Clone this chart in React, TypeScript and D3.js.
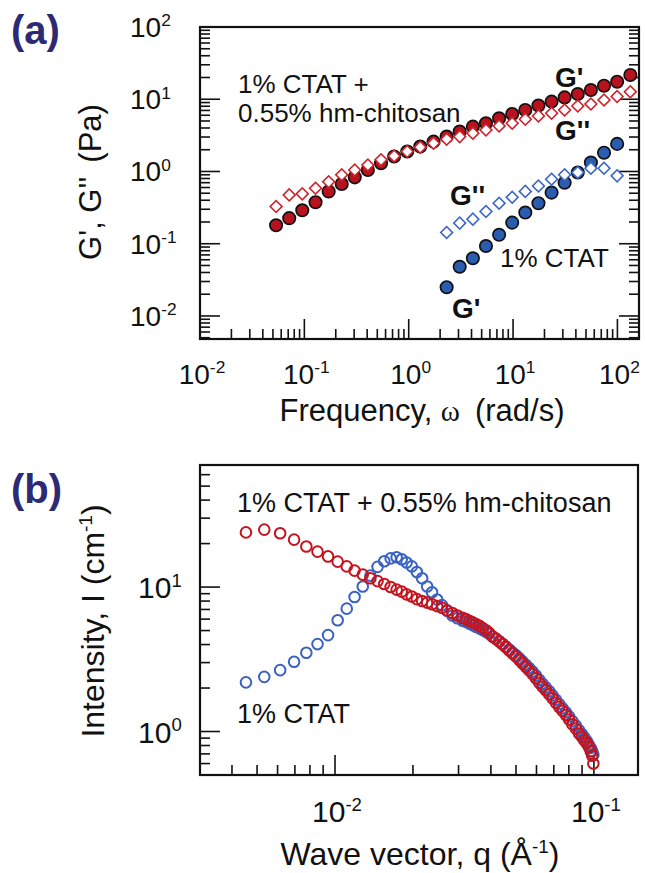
import React from 'react';
import * as d3 from 'd3';

// ---------- Panel (a): frequency sweep ----------
const omegaMix = [0.0536, 0.0716, 0.0955, 0.128, 0.171, 0.228, 0.304, 0.406, 0.543, 0.725, 0.968, 1.29, 1.73, 2.31, 3.08, 4.12, 5.5, 7.35, 9.81, 13.1, 17.5, 23.4, 31.2, 41.7, 55.7, 74.4, 99.4, 133];
const gPrimeMix = [0.18, 0.226, 0.29, 0.376, 0.53, 0.67, 0.83, 1.05, 1.3, 1.61, 1.89, 2.21, 2.59, 3.04, 3.57, 4.18, 4.65, 5.46, 6.26, 7.11, 8.17, 9.27, 10.6, 11.8, 13.4, 15.4, 17.5, 21.7];
const gDoublePrimeMix = [0.327, 0.474, 0.49, 0.587, 0.72, 0.9, 1.05, 1.23, 1.45, 1.64, 1.89, 2.17, 2.46, 2.8, 3.04, 3.38, 3.76, 4.27, 4.66, 5.3, 5.88, 6.4, 7.11, 8.07, 8.61, 9.77, 10.9, 12.7];

const omegaCtat = [2.31, 3.08, 4.12, 5.5, 7.35, 9.81, 13.1, 17.5, 23.4, 31.2, 41.7, 55.7, 74.4, 99.4];
const gPrimeCtat = [0.025, 0.048, 0.063, 0.093, 0.133, 0.196, 0.27, 0.364, 0.51, 0.7, 0.97, 1.33, 1.82, 2.41];
const gDoublePrimeCtat = [0.143, 0.193, 0.219, 0.279, 0.364, 0.44, 0.53, 0.63, 0.78, 0.9, 0.97, 1.11, 1.11, 0.87];

const aXTickExps = ['-2', '-1', '0', '1', '2'];
const aYTickExps = ['-2', '-1', '0', '1', '2'];

// ---------- Panel (b): SAXS ----------
const qVals = [0.00453, 0.00533, 0.00614, 0.00695, 0.00775, 0.00856, 0.0094, 0.01024, 0.0111, 0.0119, 0.0128, 0.0137, 0.0146, 0.0155, 0.0164, 0.0173,
  0.0181, 0.0189, 0.0198, 0.0207, 0.0217, 0.0227, 0.0237, 0.0248, 0.0259, 0.0271, 0.0284, 0.0297, 0.0311,
  0.032, 0.033, 0.034, 0.035, 0.0361, 0.0372, 0.0383, 0.0394, 0.0406, 0.0418, 0.0431, 0.0444, 0.0457, 0.0471, 0.0485, 0.05, 0.0515, 0.053, 0.0546, 0.0562, 0.0579, 0.0597, 0.0615, 0.0633, 0.0652, 0.0672, 0.0692, 0.0713, 0.0734, 0.0756, 0.0779, 0.0802, 0.0826, 0.0851, 0.0876, 0.0898, 0.0918, 0.0938, 0.0956, 0.0972, 0.0985, 0.0995];
const intensityMix = [23.9, 25.0, 23.6, 21.3, 19.1, 17.6, 16.3, 15.0, 13.9, 13.0, 12.2, 11.5, 11.0, 10.5, 10.0, 9.6,
  9.3, 8.9, 8.6, 8.25, 8.0, 7.8, 7.6, 7.38, 7.2, 6.9, 6.62, 6.35, 6.12,
  6.0, 5.85, 5.7, 5.55, 5.4, 5.2, 5.02, 4.82, 4.55, 4.38, 4.2, 4.02, 3.83, 3.64, 3.46, 3.3, 3.13, 2.96, 2.8, 2.65, 2.5, 2.34, 2.17, 2.04, 1.93, 1.81, 1.7, 1.58, 1.48, 1.39, 1.3, 1.21, 1.12, 1.05, 0.97, 0.92, 0.87, 0.83, 0.78, 0.73, 0.68, 0.6];
const intensityCtat = [2.19, 2.39, 2.66, 3.04, 3.51, 4.03, 4.65, 5.89, 7.09, 8.53, 10.1, 12.0, 13.8, 15.1, 15.8, 16.1,
  15.6, 14.8, 13.9, 12.7, 11.5, 10.1, 9.2, 8.2, 7.5, 6.85, 6.35, 6.08, 5.85,
  5.75, 5.6, 5.45, 5.3, 5.18, 5.05, 4.9, 4.75, 4.55, 4.4, 4.22, 4.05, 3.88, 3.7, 3.53, 3.38, 3.22, 3.06, 2.9, 2.75, 2.6, 2.44, 2.28, 2.14, 2.02, 1.9, 1.78, 1.66, 1.55, 1.45, 1.36, 1.27, 1.18, 1.1, 1.02, 0.96, 0.91, 0.86, 0.81, 0.77, 0.73, 0.69];

const bXTickExps = ['-2', '-1'];
const bYTickExps = ['0', '1'];

const FONT = '"Liberation Sans", Arial, Helvetica, sans-serif';
const RED = '#b7121d';
const RED_D = '#d0222b';
const BLUE = '#2a5cb0';
const BLUE_D = '#3c67c6';
const NAVY = '#2c2975';
const RED_O = '#c4141f';
const BLUE_O = '#3a62c2';

const isMajor = (t: number) => Math.abs(Math.log10(t) - Math.round(Math.log10(t))) < 1e-6;

function Pow({ x, y, exp, size, anchor }: { x: number; y: number; exp: string; size: number; anchor: string }) {
  return (
    <text x={x} y={y} fontSize={size} textAnchor={anchor} fontFamily={FONT} fill="#111">
      <tspan>10</tspan>
      <tspan dy={-size * 0.38} fontSize={size * 0.62}>{exp}</tspan>
    </text>
  );
}

export default function App() {
  // Panel a scales
  const xA = d3.scaleLog().domain([0.01, 161]).range([200, 639]);
  const yA = d3.scaleLog().domain([0.0048, 100]).range([339, 27]);
  // Panel b scales
  const xB = d3.scaleLog().domain([0.00301, 0.148]).range([200, 638]);
  const yB = d3.scaleLog().domain([0.5, 70]).range([775, 465]);

  const diamond = d3.symbol().type(d3.symbolSquare).size(70)();

  const aYTicks = yA.ticks();
  const aXTicks = xA.ticks();
  const bYTicks = yB.ticks();
  const bXTicks = xB.ticks();

  const [ax0, ax1] = xA.range();
  const [ay0, ay1] = yA.range();
  const [bx0, bx1] = xB.range();
  const [by0, by1] = yB.range();

  return (
    <svg width={645} height={873} style={{ position: 'absolute', left: 0, top: 0, background: '#fff' }} fontFamily={FONT}>
      <rect x={0} y={0} width={645} height={873} fill="#fff" />

      {/* ================= Panel (a) ================= */}
      <text x={11} y={44} fontSize={40} fontWeight="bold" fill={NAVY}>(a)</text>

      {aYTicks.map((t, i) => {
        const y = yA(t);
        const len = isMajor(t) ? 20 : 10;
        return (
          <g key={'ay' + i} stroke="#111" strokeWidth={1.6}>
            <line x1={ax0} x2={ax0 + len} y1={y} y2={y} />
            <line x1={ax1} x2={ax1 - len} y1={y} y2={y} />
          </g>
        );
      })}
      {aXTicks.map((t, i) => {
        const x = xA(t);
        const len = isMajor(t) ? 20 : 10;
        return <line key={'ax' + i} x1={x} x2={x} y1={ay0} y2={ay0 - len} stroke="#111" strokeWidth={1.6} />;
      })}
      <rect x={ax0} y={ay1} width={ax1 - ax0} height={ay0 - ay1} fill="none" stroke="#111" strokeWidth={2.2} />

      {aYTickExps.map((e) => (
        <Pow key={'ayl' + e} x={130} y={yA(Math.pow(10, +e)) + 10} exp={e} size={28} anchor="start" />
      ))}
      {aXTickExps.map((e) => (
        <Pow key={'axl' + e} x={xA(Math.pow(10, +e)) + 2} y={384} exp={e} size={28} anchor="middle" />
      ))}

      <text transform="translate(101,182) rotate(-90)" textAnchor="middle" fontSize={31} fill="#111">
        <tspan>G', G''</tspan>
        <tspan dx={14}>(Pa)</tspan>
      </text>
      <text x={422} y={421} textAnchor="middle" fontSize={31} fill="#111">
        <tspan>Frequency, </tspan>
        <tspan fontFamily='"Liberation Serif", "Times New Roman", serif' fontSize={29}>ω</tspan>
        <tspan dx={15}>(rad/s)</tspan>
      </text>

      {omegaMix.map((w, i) => (
        <circle key={'gpm' + i} cx={xA(w)} cy={yA(gPrimeMix[i])} r={6.2} fill={RED} stroke="#111" strokeWidth={1.7} />
      ))}
      {omegaMix.map((w, i) => (
        <path key={'gdm' + i} d={diamond!} transform={`translate(${xA(w)},${yA(gDoublePrimeMix[i])}) rotate(45)`} fill="#fff" stroke={RED_D} strokeWidth={1.6} />
      ))}
      {omegaCtat.map((w, i) => (
        <circle key={'gpc' + i} cx={xA(w)} cy={yA(gPrimeCtat[i])} r={6.2} fill={BLUE} stroke="#111" strokeWidth={1.7} />
      ))}
      {omegaCtat.map((w, i) => (
        <path key={'gdc' + i} d={diamond!} transform={`translate(${xA(w)},${yA(gDoublePrimeCtat[i])}) rotate(45)`} fill="#fff" stroke={BLUE_D} strokeWidth={1.6} />
      ))}

      <text x={238} y={93} fontSize={26} fill="#111">1% CTAT +</text>
      <text x={238} y={122} fontSize={26} fill="#111">0.55% hm-chitosan</text>
      <text x={555} y={87} fontSize={28} fontWeight="bold" fill="#111">G'</text>
      <text x={555} y={140} fontSize={28} fontWeight="bold" fill="#111">G''</text>
      <text x={450} y={205} fontSize={28} fontWeight="bold" fill="#111">G''</text>
      <text x={452} y={318} fontSize={28} fontWeight="bold" fill="#111">G'</text>
      <text x={500} y={267} fontSize={26} fill="#111">1% CTAT</text>

      {/* ================= Panel (b) ================= */}
      <text x={11} y={503} fontSize={40} fontWeight="bold" fill={NAVY}>(b)</text>

      {bYTicks.map((t, i) => {
        const y = yB(t);
        const len = isMajor(t) ? 20 : 10;
        return <line key={'by' + i} x1={bx0} x2={bx0 + len} y1={y} y2={y} stroke="#111" strokeWidth={1.6} />;
      })}
      {bXTicks.map((t, i) => {
        const x = xB(t);
        const len = isMajor(t) ? 20 : 10;
        return <line key={'bx' + i} x1={x} x2={x} y1={by0} y2={by0 - len} stroke="#111" strokeWidth={1.6} />;
      })}
      <rect x={bx0} y={by1} width={bx1 - bx0} height={by0 - by1} fill="none" stroke="#111" strokeWidth={2.2} />

      {bYTickExps.map((e) => (
        <Pow key={'byl' + e} x={138} y={yB(Math.pow(10, +e)) + 11} exp={e} size={30} anchor="start" />
      ))}
      {bXTickExps.map((e) => (
        <Pow key={'bxl' + e} x={xB(Math.pow(10, +e)) + 2} y={822} exp={e} size={30} anchor="middle" />
      ))}

      <text transform="translate(104,621) rotate(-90)" textAnchor="middle" fontSize={32} fill="#111">
        <tspan>Intensity, I (cm</tspan>
        <tspan dy={-12} fontSize={19}>-1</tspan>
        <tspan dy={12}>)</tspan>
      </text>
      <text x={420} y={865} textAnchor="middle" fontSize={32} fill="#111">
        <tspan>Wave vector, q (Å</tspan>
        <tspan dy={-12} fontSize={19}>-1</tspan>
        <tspan dy={12}>)</tspan>
      </text>

      {qVals.map((q, i) => (
        <circle key={'ic' + i} cx={xB(q)} cy={yB(intensityCtat[i])} r={5.3} fill="none" stroke={BLUE_O} strokeWidth={2} />
      ))}
      {qVals.map((q, i) => (
        <circle key={'im' + i} cx={xB(q)} cy={yB(intensityMix[i])} r={5.3} fill="none" stroke={RED_O} strokeWidth={2} />
      ))}

      <text x={237} y={512} fontSize={27} fill="#111">1% CTAT + 0.55% hm-chitosan</text>
      <text x={237} y={723} fontSize={27} fill="#111">1% CTAT</text>
    </svg>
  );
}
